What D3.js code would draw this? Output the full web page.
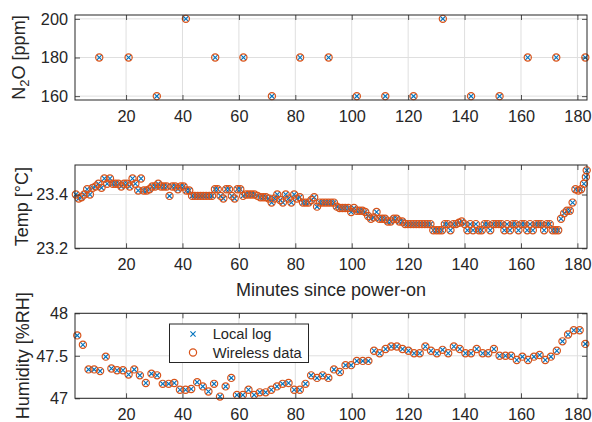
<!DOCTYPE html>
<html lang="en">
  <head>
    <meta charset="utf-8">
    <title>Sensor log</title>
    <script src="https://d3js.org/d3.v7.js"></script>
    <style>
      body {
        margin: 0;
        background: white;
      }
      text {
        font-family: "Liberation Sans", Arial, Helvetica, sans-serif;
        fill: #262626;
      }
    </style>
  </head>
  <body>
    <script type="text/javascript">
      // data
      var n2oTime = [10.5, 20.9, 30.9, 41.2, 51.6, 61.6, 71.7, 81.7, 91.8, 101.8,
                     111.9, 121.9, 132.3, 142.3, 152.4, 162.4, 172.5, 182.8];
      var n2oVal = [180, 180, 160, 200, 180, 180, 160, 180, 180, 160,
                    160, 160, 200, 160, 160, 180, 180, 180];

      var tempTime = [2.2, 3.2, 4.2, 5.2, 6.2, 7.2, 8.2, 9.2, 10.2, 11.3,
                      12.3, 13.3, 14.3, 15.3, 16.3, 17.3, 18.3, 19.3, 20.3, 21.3,
                      22.3, 23.3, 24.3, 25.3, 26.3, 27.3, 28.3, 29.3, 30.3, 31.4,
                      32.4, 33.4, 34.4, 35.4, 36.4, 37.4, 38.4, 39.4, 40.4, 41.4,
                      42.4, 43.4, 44.4, 45.4, 46.4, 47.4, 48.4, 49.5, 50.5, 51.5,
                      52.5, 53.5, 54.5, 55.5, 56.5, 57.5, 58.5, 59.5, 60.5, 61.5,
                      62.5, 63.5, 64.5, 65.5, 66.6, 67.6, 68.6, 69.6, 70.6, 71.6,
                      72.6, 73.6, 74.6, 75.6, 76.6, 77.6, 78.6, 79.6, 80.6, 81.6,
                      82.7, 83.7, 84.7, 85.7, 86.7, 87.7, 88.7, 89.7, 90.7, 91.7,
                      92.7, 93.7, 94.7, 95.7, 96.7, 97.7, 98.8, 99.8, 100.8, 101.8,
                      102.8, 103.8, 104.8, 105.8, 106.8, 107.8, 108.8, 109.8, 110.8, 111.8,
                      112.8, 113.8, 114.9, 115.9, 116.9, 117.9, 118.9, 119.9, 120.9, 121.9,
                      122.9, 123.9, 124.9, 125.9, 126.9, 127.9, 128.9, 130.0, 131.0, 132.0,
                      133.0, 134.0, 135.0, 136.0, 137.0, 138.0, 139.0, 140.0, 141.0, 142.0,
                      143.0, 144.0, 145.1, 146.1, 147.1, 148.1, 149.1, 150.1, 151.1, 152.1,
                      153.1, 154.1, 155.1, 156.1, 157.1, 158.1, 159.1, 160.2, 161.2, 162.2,
                      163.2, 164.2, 165.2, 166.2, 167.2, 168.2, 169.2, 170.2, 171.2, 172.2,
                      173.2, 174.2, 175.3, 176.3, 177.3, 178.3, 179.3, 180.3, 181.3, 182.3,
                      183.0, 183.3];
      var tempVal = [23.40, 23.385, 23.39, 23.40, 23.42, 23.40, 23.425, 23.43, 23.44, 23.425,
                     23.46, 23.44, 23.46, 23.44, 23.44, 23.44, 23.43, 23.44, 23.44, 23.43,
                     23.46, 23.44, 23.415, 23.46, 23.415, 23.415, 23.42, 23.43, 23.43, 23.44,
                     23.43, 23.43, 23.43, 23.395, 23.43, 23.43, 23.42, 23.43, 23.43, 23.415,
                     23.415, 23.395, 23.395, 23.395, 23.395, 23.395, 23.395, 23.395, 23.395, 23.42,
                     23.42, 23.395, 23.385, 23.42, 23.42, 23.395, 23.385, 23.42, 23.42, 23.395,
                     23.40, 23.40, 23.40, 23.40, 23.395, 23.39, 23.39, 23.39, 23.385, 23.37,
                     23.385, 23.40, 23.38, 23.37, 23.40, 23.385, 23.37, 23.40, 23.385, 23.39,
                     23.37, 23.37, 23.37, 23.38, 23.39, 23.355, 23.37, 23.37, 23.37, 23.37,
                     23.37, 23.37, 23.355, 23.35, 23.35, 23.35, 23.35, 23.335, 23.35, 23.34,
                     23.34, 23.34, 23.335, 23.32, 23.31, 23.315, 23.335, 23.31, 23.31, 23.31,
                     23.30, 23.30, 23.31, 23.31, 23.30, 23.30, 23.29, 23.29, 23.29, 23.29,
                     23.29, 23.29, 23.29, 23.29, 23.29, 23.29, 23.267, 23.267, 23.267, 23.267,
                     23.29, 23.29, 23.267, 23.29, 23.29, 23.295, 23.30, 23.29, 23.267, 23.29,
                     23.267, 23.29, 23.267, 23.267, 23.29, 23.29, 23.267, 23.29, 23.29, 23.29,
                     23.29, 23.267, 23.29, 23.267, 23.29, 23.29, 23.267, 23.29, 23.29, 23.267,
                     23.29, 23.267, 23.29, 23.29, 23.29, 23.267, 23.29, 23.29, 23.267, 23.267,
                     23.267, 23.31, 23.33, 23.34, 23.34, 23.37, 23.42, 23.415, 23.42, 23.44,
                     23.465, 23.49];

      var humTime = [2.7, 4.7, 6.7, 8.7, 10.8, 12.8, 14.8, 16.8, 18.9, 20.9,
                     22.9, 24.9, 27.0, 29.0, 31.0, 33.0, 35.1, 37.1, 39.1, 41.1,
                     43.1, 45.2, 47.2, 49.2, 51.2, 53.3, 55.3, 57.3, 59.3, 61.4,
                     63.4, 65.4, 67.4, 69.5, 71.5, 73.5, 75.5, 77.6, 79.6, 81.6,
                     83.6, 85.6, 87.7, 89.7, 91.7, 93.7, 95.8, 97.8, 99.8, 101.8,
                     103.9, 105.9, 107.9, 109.9, 112.0, 114.0, 116.0, 118.0, 120.1, 122.1,
                     124.1, 126.1, 128.1, 130.2, 132.2, 134.2, 136.2, 138.3, 140.3, 142.3,
                     144.3, 146.4, 148.4, 150.4, 152.4, 154.5, 156.5, 158.5, 160.5, 162.5,
                     164.6, 166.6, 168.6, 170.6, 172.7, 174.7, 176.7, 178.7, 180.8, 182.8];
      var humVal = [47.74, 47.63, 47.34, 47.34, 47.32, 47.49, 47.35, 47.33, 47.33, 47.28,
                    47.34, 47.27, 47.18, 47.29, 47.27, 47.17, 47.17, 47.18, 47.10, 47.10,
                    47.11, 47.19, 47.14, 47.08, 47.17, 47.02, 47.14, 47.24, 47.04, 47.04,
                    47.10, 47.04, 47.07, 47.07, 47.10, 47.14, 47.17, 47.18, 47.10, 47.10,
                    47.17, 47.27, 47.24, 47.27, 47.24, 47.34, 47.31, 47.39, 47.39, 47.44,
                    47.44, 47.44, 47.56, 47.53, 47.58, 47.61, 47.61, 47.58, 47.56, 47.53,
                    47.53, 47.61, 47.56, 47.53, 47.57, 47.53, 47.61, 47.58, 47.53, 47.53,
                    47.58, 47.53, 47.53, 47.58, 47.50, 47.50, 47.50, 47.45, 47.49, 47.45,
                    47.49, 47.51, 47.45, 47.49, 47.56, 47.67, 47.75, 47.80, 47.80, 47.64];

      var xTicks = [20, 40, 60, 80, 100, 120, 140, 160, 180];
      var n2oTicks = [160, 180, 200];
      var tempTicks = [23.2, 23.4];
      var humTicks = [47, 47.5, 48];
      var seriesNames = ["Local log", "Wireless data"];

      //Width and height
      var w = 592;
      var h = 422;
      var left = 75;
      var right = 587;
      var blue = "#0072BD";
      var orange = "#D95319";
      var axisColor = "#262626";
      var gridColor = "#dfdfdf";
      var tickLen = 5;

      var svg = d3.select("body")
          .append("svg")
          .attr("width", w)
          .attr("height", h);

      svg.append("rect")
          .attr("width", w)
          .attr("height", h)
          .attr("fill", "white");

      var xScale = d3.scaleLinear()
          .domain([1.9, 183.4])
          .range([left, right]);

      var zip = function (xs, ys) {
        return xs.map(function (x, i) { return {t: x, v: ys[i]}; });
      };

      // one subplot: grid, markers, box, ticks
      function panel(top, bottom, yDomain, yTicks, fmt, data) {
        var yScale = d3.scaleLinear().domain(yDomain).range([bottom, top]);
        var g = svg.append("g");

        // grid lines
        g.selectAll(".gx").data(xTicks).enter().append("line")
            .attr("x1", d => xScale(d)).attr("x2", d => xScale(d))
            .attr("y1", top).attr("y2", bottom)
            .attr("stroke", gridColor).attr("stroke-width", 1);
        g.selectAll(".gy").data(yTicks).enter().append("line")
            .attr("x1", left).attr("x2", right)
            .attr("y1", d => yScale(d)).attr("y2", d => yScale(d))
            .attr("stroke", gridColor).attr("stroke-width", 1);

        // local log: blue crosses
        g.selectAll(".cross").data(data).enter().append("path")
            .attr("transform", d => `translate(${xScale(d.t)},${yScale(d.v)})`)
            .attr("d", "M-2.6,-2.6L2.6,2.6M-2.6,2.6L2.6,-2.6")
            .attr("fill", "none")
            .attr("stroke", blue)
            .attr("stroke-width", 1.1);

        // wireless data: orange circles
        g.selectAll(".ring").data(data).enter().append("circle")
            .attr("cx", d => xScale(d.t))
            .attr("cy", d => yScale(d.v))
            .attr("r", 3.6)
            .attr("fill", "none")
            .attr("stroke", orange)
            .attr("stroke-width", 1.2);

        // axes, MATLAB style ticks inward on all four sides
        var xb = d3.axisBottom(xScale).tickValues(xTicks).tickSizeInner(-tickLen).tickSizeOuter(0).tickPadding(10.5);
        var xt = d3.axisTop(xScale).tickValues(xTicks).tickSizeInner(-tickLen).tickSizeOuter(0).tickFormat("");
        var yl = d3.axisLeft(yScale).tickValues(yTicks).tickSizeInner(-tickLen).tickSizeOuter(0).tickPadding(7).tickFormat(fmt);
        var yr = d3.axisRight(yScale).tickValues(yTicks).tickSizeInner(-tickLen).tickSizeOuter(0).tickFormat("");

        g.append("g").attr("transform", `translate(0,${bottom})`).call(xb);
        g.append("g").attr("transform", `translate(0,${top})`).call(xt);
        g.append("g").attr("transform", `translate(${left},0)`).call(yl);
        g.append("g").attr("transform", `translate(${right},0)`).call(yr);

        g.selectAll(".domain").remove();
        g.selectAll(".tick line").attr("stroke", axisColor).attr("stroke-width", 0.8);
        g.selectAll(".tick text")
            .attr("fill", axisColor)
            .style("font-size", "16.3px")
            .style("font-family", "'Liberation Sans', Arial, sans-serif");

        // box
        g.append("rect")
            .attr("x", left).attr("y", top)
            .attr("width", right - left).attr("height", bottom - top)
            .attr("fill", "none")
            .attr("stroke", axisColor)
            .attr("stroke-width", 1);

        return yScale;
      }

      panel(15, 100, [158, 202], n2oTicks, d3.format("d"), zip(n2oTime, n2oVal));
      panel(165, 248.3, [23.2, 23.51], tempTicks, d3.format(".1f"), zip(tempTime, tempVal));
      panel(313.3, 398.3, [47, 48], humTicks, d => String(d), zip(humTime, humVal));

      // y labels
      var n2oLabel = svg.append("text")
          .attr("transform", "translate(25,57.5) rotate(-90)")
          .attr("text-anchor", "middle")
          .style("font-size", "18px");
      n2oLabel.append("tspan").text("N");
      n2oLabel.append("tspan").text("2").attr("dy", 4).style("font-size", "13px");
      n2oLabel.append("tspan").text("O [ppm]").attr("dy", -4);

      svg.append("text")
          .attr("transform", "translate(28.3,206.7) rotate(-90)")
          .attr("text-anchor", "middle")
          .style("font-size", "18px")
          .text("Temp [°C]");

      svg.append("text")
          .attr("transform", "translate(29.3,355.8) rotate(-90)")
          .attr("text-anchor", "middle")
          .style("font-size", "18px")
          .text("Humidity [%RH]");

      // x label
      svg.append("text")
          .attr("x", (left + right) / 2)
          .attr("y", 296)
          .attr("text-anchor", "middle")
          .style("font-size", "18px")
          .text("Minutes since power-on");

      // legend
      var leg = svg.append("g");
      leg.append("rect")
          .attr("x", 169.5).attr("y", 324)
          .attr("width", 139).attr("height", 38.5)
          .attr("fill", "white")
          .attr("stroke", axisColor)
          .attr("stroke-width", 1);

      var legY = d3.scalePoint().domain(seriesNames).range([334, 352.5]);

      leg.append("path")
          .attr("transform", `translate(193,${legY(seriesNames[0])})`)
          .attr("d", "M-2.6,-2.6L2.6,2.6M-2.6,2.6L2.6,-2.6")
          .attr("stroke", blue)
          .attr("stroke-width", 1.1);
      leg.append("circle")
          .attr("cx", 193).attr("cy", legY(seriesNames[1]))
          .attr("r", 3.6)
          .attr("fill", "none")
          .attr("stroke", orange)
          .attr("stroke-width", 1.2);

      leg.selectAll(".lt").data(seriesNames).enter().append("text")
          .attr("x", 212.7)
          .attr("y", d => legY(d))
          .attr("dy", "0.35em")
          .style("font-size", "14.7px")
          .text(d => d);
    </script>
  </body>
</html>
